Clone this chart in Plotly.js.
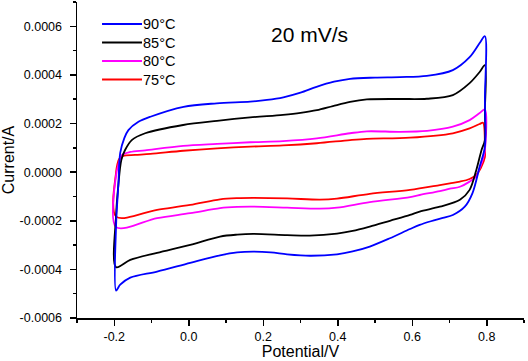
<!DOCTYPE html>
<html>
<head>
<meta charset="utf-8">
<script src="https://cdn.plot.ly/plotly-3.0.1.min.js"></script>
<style>html,body{margin:0;padding:0;background:#fff;}#chart{width:528px;height:361px;}</style>
</head>
<body>
<div id="chart"></div>
<script>
// Potential (V) and current (A), forward sweep then reverse sweep
const potential90 = [-0.195,-0.195,-0.189,-0.184,-0.173,-0.162,-0.135,-0.103,-0.014,0.075,0.165,0.210,0.254,0.300,0.343,0.390,0.433,0.500,0.567,0.639,0.709,0.754,0.781,0.795,
  0.795,0.795,0.781,0.762,0.741,0.709,0.682,0.650,0.620,0.594,0.540,0.486,0.440,0.398,0.325,0.264,0.220,0.173,0.130,0.084,0.004,-0.085,-0.157,-0.184,-0.195];
const current90 = [-4.87e-4,-2.17e-4,-0.53e-4,0.79e-4,1.40e-4,1.73e-4,2.07e-4,2.28e-4,2.69e-4,2.83e-4,2.90e-4,2.97e-4,3.08e-4,3.27e-4,3.51e-4,3.72e-4,3.84e-4,3.89e-4,3.91e-4,3.96e-4,4.20e-4,4.73e-4,5.31e-4,5.59e-4,
  3.0e-4,1.05e-4,0.23e-4,-0.85e-4,-1.42e-4,-1.76e-4,-1.88e-4,-2.02e-4,-2.17e-4,-2.34e-4,-2.72e-4,-3.06e-4,-3.26e-4,-3.38e-4,-3.44e-4,-3.38e-4,-3.30e-4,-3.27e-4,-3.30e-4,-3.42e-4,-3.73e-4,-4.09e-4,-4.34e-4,-4.63e-4,-4.87e-4];

const potential85 = [-0.195,-0.195,-0.189,-0.181,-0.171,-0.153,-0.117,-0.015,0.076,0.165,0.253,0.300,0.344,0.387,0.433,0.478,0.567,0.639,0.709,0.754,0.781,0.795,
  0.795,0.795,0.786,0.772,0.754,0.728,0.674,0.620,0.594,0.540,0.486,0.440,0.398,0.325,0.264,0.173,0.130,0.084,0.004,-0.085,-0.157,-0.195];
const current85 = [-3.91e-4,-1.76e-4,-0.53e-4,0.50e-4,0.91e-4,1.32e-4,1.60e-4,1.94e-4,2.11e-4,2.25e-4,2.36e-4,2.44e-4,2.55e-4,2.72e-4,2.89e-4,2.99e-4,3.01e-4,3.02e-4,3.17e-4,3.66e-4,4.12e-4,4.40e-4,
  2.5e-4,1.32e-4,0.91e-4,0.09e-4,-0.73e-4,-1.14e-4,-1.42e-4,-1.62e-4,-1.76e-4,-2.00e-4,-2.24e-4,-2.42e-4,-2.53e-4,-2.61e-4,-2.59e-4,-2.54e-4,-2.57e-4,-2.65e-4,-2.99e-4,-3.32e-4,-3.61e-4,-3.91e-4];

const potential80 = [-0.195,-0.195,-0.189,-0.179,-0.157,-0.117,-0.015,0.076,0.165,0.253,0.344,0.433,0.478,0.567,0.640,0.709,0.754,0.781,0.795,
  0.795,0.789,0.781,0.772,0.754,0.728,0.701,0.674,0.620,0.594,0.486,0.398,0.352,0.264,0.173,0.130,0.084,0.004,-0.085,-0.195];
const current80 = [-2.26e-4,-0.11e-4,0.30e-4,0.71e-4,0.83e-4,0.90e-4,1.08e-4,1.16e-4,1.23e-4,1.28e-4,1.39e-4,1.60e-4,1.68e-4,1.66e-4,1.70e-4,1.87e-4,2.14e-4,2.43e-4,2.58e-4,
  0.91e-4,0.50e-4,0.17e-4,-0.18e-4,-0.39e-4,-0.60e-4,-0.68e-4,-0.78e-4,-0.94e-4,-1.03e-4,-1.23e-4,-1.46e-4,-1.50e-4,-1.46e-4,-1.42e-4,-1.43e-4,-1.48e-4,-1.69e-4,-1.89e-4,-2.26e-4];

const potential75 = [-0.195,-0.195,-0.192,-0.187,-0.176,-0.144,-0.103,-0.015,0.076,0.165,0.253,0.344,0.433,0.478,0.594,0.709,0.754,0.781,0.790,
  0.795,0.795,0.784,0.772,0.754,0.728,0.701,0.674,0.594,0.486,0.398,0.352,0.264,0.173,0.130,0.084,0.004,-0.085,-0.195];
const current75 = [-1.83e-4,0.01e-4,0.30e-4,0.54e-4,0.67e-4,0.71e-4,0.75e-4,0.88e-4,0.98e-4,1.05e-4,1.10e-4,1.19e-4,1.32e-4,1.37e-4,1.42e-4,1.60e-4,1.80e-4,1.98e-4,2.03e-4,
  0.91e-4,0.62e-4,0.17e-4,-0.11e-4,-0.28e-4,-0.39e-4,-0.46e-4,-0.53e-4,-0.73e-4,-0.89e-4,-1.09e-4,-1.13e-4,-1.08e-4,-1.06e-4,-1.07e-4,-1.12e-4,-1.35e-4,-1.55e-4,-1.83e-4];

const seriesNames = ['75°C','80°C','85°C','90°C'];
const seriesColors = ['#ff0000','#ff00ff','#000000','#0000ff'];
const xTickVals = [-0.2,0.0,0.2,0.4,0.6,0.8];
const xTickText = ['-0.2','0.0','0.2','0.4','0.6','0.8'];
const yTickVals = [-0.0006,-0.0004,-0.0002,0,0.0002,0.0004,0.0006];
const yTickText = ['-0.0006','-0.0004','-0.0002','0.0000','0.0002','0.0004','0.0006'];

const xs = [potential75, potential80, potential85, potential90];
const ys = [current75, current80, current85, current90];

const font = 'Liberation Sans, Arial, sans-serif';
const traces = xs.map((x, i) => ({
  x: x, y: ys[i], type: 'scatter', mode: 'lines', name: seriesNames[i],
  line: {color: seriesColors[i], width: 1.8, shape: 'spline', smoothing: 0.9}
}));

// Legend drawn as layout shapes + text (top row = last series)
const legendTop = 0.930, legendStep = 0.0585;
const legendShapes = [], legendTexts = [];
for (let k = 0; k < seriesNames.length; k++) {
  const i = seriesNames.length - 1 - k;
  const yy = legendTop - k * legendStep;
  legendShapes.push({type: 'line', xref: 'paper', yref: 'paper', x0: 0.056, x1: 0.1454, y0: yy, y1: yy,
    line: {color: seriesColors[i], width: 2}});
  legendTexts.push({text: seriesNames[i], xref: 'paper', yref: 'paper', x: 0.143, y: yy,
    xanchor: 'left', yanchor: 'middle', showarrow: false,
    font: {family: font, size: 14.5, color: '#000'}});
}

const axisCommon = {
  showline: true, linecolor: '#000', linewidth: 1.5, mirror: false,
  ticks: 'outside', ticklen: 6, tickwidth: 1.5, tickcolor: '#000',
  showgrid: false, zeroline: false, automargin: false,
  tickfont: {family: font, size: 12.5, color: '#000'}
};

const layout = {
  width: 528, height: 361,
  margin: {l: 77, r: 4, t: 2, b: 43},
  paper_bgcolor: '#fff', plot_bgcolor: '#fff',
  font: {family: font, color: '#000'},
  showlegend: false,
  xaxis: Object.assign({}, axisCommon, {
    range: [-0.3, 0.9], tickmode: 'array', tickvals: xTickVals, ticktext: xTickText,
    minor: {tickmode: 'linear', tick0: 0, dtick: 0.1, ticks: 'outside', ticklen: 3, tickwidth: 1.5, tickcolor: '#000'},
    title: {text: 'Potential/V', font: {family: font, size: 16, color: '#000'}, standoff: 3}
  }),
  yaxis: Object.assign({}, axisCommon, {
    range: [-0.0006, 0.0007], tickmode: 'array', tickvals: yTickVals, ticktext: yTickText,
    ticklabelstandoff: 5,
    minor: {tickmode: 'linear', tick0: 0, dtick: 0.0001, ticks: 'outside', ticklen: 3, tickwidth: 1.5, tickcolor: '#000'},
    title: {text: 'Current/A', font: {family: font, size: 16, color: '#000'}, standoff: 2}
  }),
  shapes: legendShapes,
  annotations: legendTexts.concat([{
    text: '20 mV/s', xref: 'paper', yref: 'paper', x: 0.521, y: 0.896,
    xanchor: 'center', yanchor: 'middle', showarrow: false,
    font: {family: font, size: 21, color: '#000'}
  }])
};

Plotly.newPlot('chart', traces, layout, {staticPlot: true, displayModeBar: false});
</script>
</body>
</html>
